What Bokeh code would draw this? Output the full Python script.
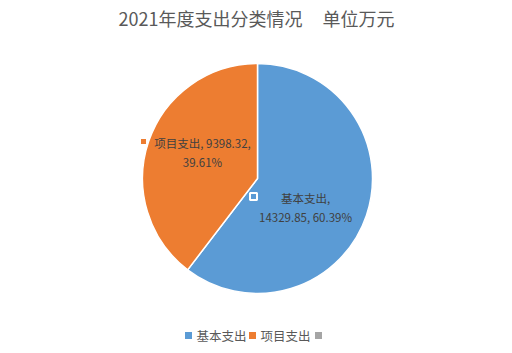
import math
from bokeh.plotting import figure
from bokeh.models import Range1d, ColumnDataSource
from bokeh.core.properties import value
from bokeh.embed import file_html
from bokeh.resources import INLINE

title_text = "2021年度支出分类情况\u00a0\u00a0\u00a0\u00a0\u00a0单位万元"
categories = ["基本支出", "项目支出"]
values = [14329.85, 9398.32]
colors = ["#5B9BD5", "#ED7D31"]
legend_extra_color = "#A5A5A5"

W, H = 512, 353
FONT = "Noto Sans CJK SC"

def Y(py):
    return H - py

p = figure(width=W, height=H, output_backend="svg", toolbar_location=None,
           x_range=Range1d(0, W), y_range=Range1d(0, H), min_border=0)
p.axis.visible = False
p.grid.visible = False
p.outline_line_color = None
p.background_fill_color = "white"
p.border_fill_color = "white"

total = sum(values)
fracs = [v / total for v in values]
starts, ends = [], []
acc = 0.0
for f in fracs:
    starts.append(math.pi / 2 - 2 * math.pi * acc)
    acc += f
    ends.append(math.pi / 2 - 2 * math.pi * acc)

cx, cy, r = 257, Y(178), 115
src = ColumnDataSource(dict(start=starts, end=ends, color=colors))
p.wedge(x=cx, y=cy, radius=r, start_angle="start", end_angle="end",
        direction="clock", fill_color="color", line_color="white",
        line_width=1.5, source=src)

# data labels
pcts = ["%.2f%%" % (f * 100) for f in fracs]
lab_blue = "%s,\n%s, %s" % (categories[0], "%.2f" % values[0], pcts[0])
lab_orange = "%s, %s,\n%s" % (categories[1], "%.2f" % values[1], pcts[1])
p.text(x=[305, 202], y=[Y(189), Y(134)], text=[lab_blue, lab_orange],
       text_font=value(FONT), text_font_size="11.5px", text_color="#404040",
       text_align="center", text_baseline="top", text_line_height=1.2)
p.scatter(x=[253], y=[Y(196)], marker="square", size=7,
          fill_color=colors[0], line_color="white", line_width=2)
p.scatter(x=[143], y=[Y(141)], marker="square", size=5,
          fill_color=colors[1], line_color=None)

# title
p.text(x=[256], y=[Y(17)], text=[title_text], text_font=value(FONT),
       text_font_size="18px", text_color="#595959",
       text_align="center", text_baseline="middle")

# legend
leg_colors = colors + [legend_extra_color]
leg_labels = categories + [""]
lx = [188, 252, 318]
p.scatter(x=lx, y=[Y(335)] * 3, marker="square", size=7,
          fill_color=leg_colors, line_color=None)
p.text(x=[x + 8 for x in lx[:2]], y=[Y(335)] * 2, text=leg_labels[:2],
       text_font=value(FONT), text_font_size="12.5px", text_color="#595959",
       text_align="left", text_baseline="middle")

open("out.html", "w").write(file_html(p, INLINE))
